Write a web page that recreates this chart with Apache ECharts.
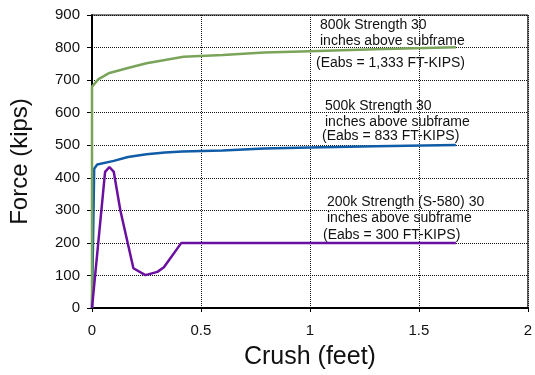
<!DOCTYPE html>
<html>
<head>
<meta charset="utf-8">
<script src="https://cdn.jsdelivr.net/npm/echarts@6/dist/echarts.min.js"></script>
<style>
  html, body { margin: 0; padding: 0; background: #fff; }
  #chart { width: 535px; height: 375px; }
</style>
</head>
<body>
<div id="chart"></div>
<script>
// crush (feet) vs force (kips)
const crush800 = [0, 0, 0.005, 0.03, 0.08, 0.165, 0.25, 0.335, 0.42, 0.6, 0.79, 1.0, 1.3, 1.67];
const force800 = [0, 680, 681, 703, 722, 737, 752, 762, 772, 777, 785, 789, 795, 801];

const crush500 = [0, 0.01, 0.024, 0.1, 0.165, 0.25, 0.335, 0.415, 0.6, 0.79, 1.0, 1.3, 1.67];
const force500 = [0, 428, 441, 452, 464, 472, 478, 481, 484, 490, 493, 497, 501];

const crush200 = [0, 0.06, 0.08, 0.1, 0.13, 0.19, 0.245, 0.3, 0.33, 0.41, 1.0, 1.67];
const force200 = [0, 418, 433, 418, 300, 122, 101, 111, 125, 200, 200, 200];

const xTicks = [0, 0.5, 1, 1.5, 2];
const yMax = 900;

const notes = [
  { lines: ['800k Strength 30', 'inches above subframe'], eabs: '(Eabs = 1,333 FT-KIPS)' },
  { lines: ['500k Strength 30', 'inches above subframe'], eabs: '(Eabs = 833 FT-KIPS)' },
  { lines: ['200k Strength (S-580) 30', 'inches above subframe'], eabs: '(Eabs = 300 FT-KIPS)' }
];

const zip = (xs, ys) => xs.map((x, i) => [x, ys[i]]);

const chart = echarts.init(document.getElementById('chart'));
const font = 'Liberation Sans, Arial, sans-serif';

// text blocks placed next to each curve
const notePos = [
  { x: 320, y: 17, ex: 316, ey: 56 },
  { x: 325, y: 98, ex: 322, ey: 129 },
  { x: 327, y: 194, ex: 323, ey: 228 }
];
const graphic = [];
notes.forEach((n, i) => {
  const p = notePos[i];
  graphic.push({
    type: 'text', left: p.x, top: p.y,
    style: { text: n.lines.join('\n'), font: '14px ' + font, fill: '#111', lineHeight: 16 }
  });
  graphic.push({
    type: 'text', left: p.ex, top: p.ey,
    style: { text: n.eabs, font: '14px ' + font, fill: '#111' }
  });
});

const option = {
  animation: false,
  backgroundColor: '#fff',
  grid: { left: 92, right: 3, top: 15, bottom: 64, show: true, borderColor: '#000', borderWidth: 1 },
  xAxis: {
    type: 'value', min: 0, max: 2, interval: 0.5,
    name: 'Crush (feet)', nameLocation: 'middle', nameGap: 37,
    nameTextStyle: { fontFamily: font, fontSize: 25, color: '#111' },
    axisLine: { show: true, lineStyle: { color: '#000', width: 2 } },
    axisTick: { show: true, inside: false, length: 4, lineStyle: { color: '#000' } },
    axisLabel: { fontFamily: font, fontSize: 15, color: '#111', margin: 15,
      formatter: v => xTicks.includes(v) ? String(v) : '' },
    splitLine: { show: true, lineStyle: { color: '#111', type: [1, 1], width: 1 } }
  },
  yAxis: {
    type: 'value', min: 0, max: yMax, interval: 100,
    name: 'Force (kips)', nameLocation: 'middle', nameGap: 60, nameRotate: 90,
    nameTextStyle: { fontFamily: font, fontSize: 24, color: '#111' },
    axisLine: { show: true, lineStyle: { color: '#000', width: 2 } },
    axisTick: { show: true, inside: false, length: 5, lineStyle: { color: '#000' } },
    axisLabel: { fontFamily: font, fontSize: 15, color: '#111', margin: 12 },
    splitLine: { show: true, lineStyle: { color: '#111', type: [1, 1], width: 1 } }
  },
  series: [
    {
      name: '500k', type: 'line', data: zip(crush500, force500), showSymbol: false,
      lineStyle: { color: '#105ca6', width: 2.5 }, z: 3
    },
    {
      name: '800k', type: 'line', data: zip(crush800, force800), showSymbol: false,
      lineStyle: { color: '#7aa45a', width: 2.5 }, z: 4
    },
    {
      name: '200k', type: 'line', data: zip(crush200, force200), showSymbol: false,
      lineStyle: { color: '#6a0fa0', width: 2.5 }, z: 5
    }
  ],
  graphic: graphic
};

chart.setOption(option);
</script>
</body>
</html>
